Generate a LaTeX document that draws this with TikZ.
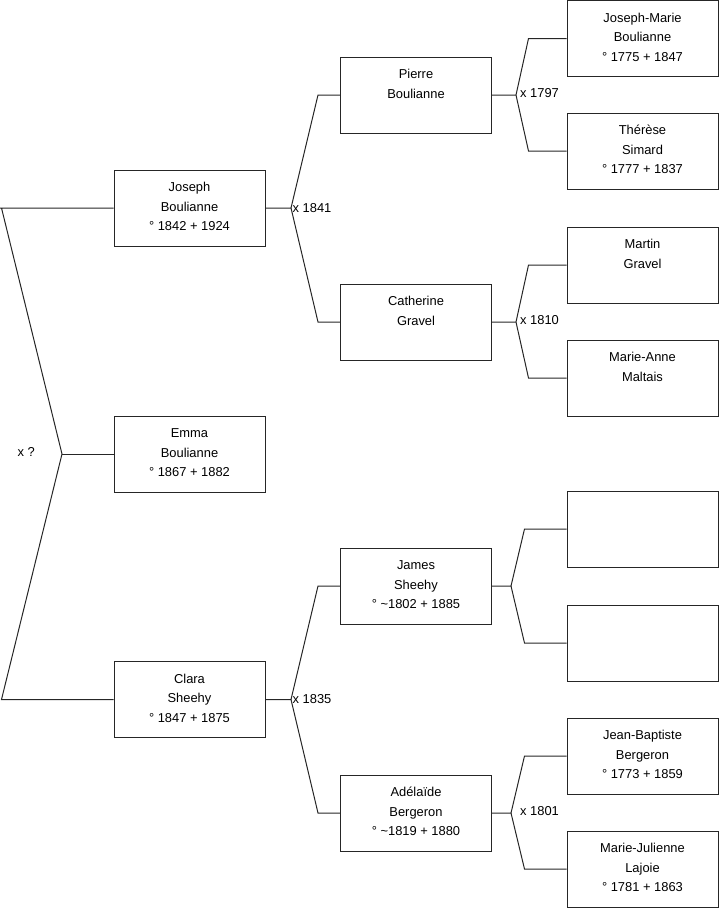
\documentclass[tikz,border=0pt]{standalone}
\usepackage{fontspec}
\setmainfont{Liberation Sans}
\newcommand{\pbox}[3]{\parbox[c][76pt][t]{151pt}{\centering\vspace*{8pt}\strut #1\\\strut #2\\\strut #3\par}}
\tikzset{
  box/.style={draw=black!85, line width=1pt, rectangle, inner sep=0pt, minimum width=151pt, minimum height=76pt, font=\fontsize{12.9}{19.5}\selectfont},
  con/.style={draw=black!85, line width=1pt},
  lbl/.style={anchor=base west, inner sep=0pt, font=\fontsize{12.9}{19.5}\selectfont}
}
\begin{document}
\begin{tikzpicture}[x=1pt,y=-1pt]
\useasboundingbox (0,0) rectangle (719,908);
% column 1
\node[box] (joseph) at (189.5,208) {\pbox{Joseph}{Boulianne}{° 1842 + 1924}};
\node[box] (emma) at (189.5,454) {\pbox{Emma}{Boulianne}{° 1867 + 1882}};
\node[box] (clara) at (189.5,699.5) {\pbox{Clara}{Sheehy}{° 1847 + 1875}};
% column 2
\node[box] (pierre) at (416,95) {\pbox{Pierre}{Boulianne}{}};
\node[box] (catherine) at (416,322) {\pbox{Catherine}{Gravel}{}};
\node[box] (james) at (416,586) {\pbox{James}{Sheehy}{° \textasciitilde1802 + 1885}};
\node[box] (adelaide) at (416,813) {\pbox{Adélaïde}{Bergeron}{° \textasciitilde1819 + 1880}};
% column 3
\node[box] (jm) at (642.5,38.5) {\pbox{Joseph-Marie}{Boulianne}{° 1775 + 1847}};
\node[box] (therese) at (642.5,151) {\pbox{Thérèse}{Simard}{° 1777 + 1837}};
\node[box] (martin) at (642.5,265) {\pbox{Martin}{Gravel}{}};
\node[box] (marieanne) at (642.5,378) {\pbox{Marie-Anne}{Maltais}{}};
\node[box] (e1) at (642.5,529) {};
\node[box] (e2) at (642.5,643) {};
\node[box] (jb) at (642.5,756) {\pbox{Jean-Baptiste}{Bergeron}{° 1773 + 1859}};
\node[box] (mj) at (642.5,869) {\pbox{Marie-Julienne}{Lajoie}{° 1781 + 1863}};

% vertices
\coordinate (v0) at (62,454);
\coordinate (l0t) at (1.5,208);
\coordinate (l0b) at (1.5,699.5);
\coordinate (v1) at (291,208);
\coordinate (v2) at (291,699.5);
\coordinate (v3) at (516,95);
\coordinate (v4) at (516,322);
\coordinate (v5) at (511,586);
\coordinate (v6) at (511,813);

% left couple
\draw[con] (joseph.west) -- (0,208) (l0t) -- (v0) -- (l0b) -- (clara.west);
\draw[con] (v0) -- (emma.west);
% Joseph's parents
\draw[con] (joseph.east) -- (v1) -- ([xshift=-22pt]pierre.west) -- (pierre.west);
\draw[con] (v1) -- ([xshift=-22pt]catherine.west) -- (catherine.west);
% Clara's parents
\draw[con] (clara.east) -- (v2) -- ([xshift=-22pt]james.west) -- (james.west);
\draw[con] (v2) -- ([xshift=-22pt]adelaide.west) -- (adelaide.west);
% Pierre
\draw[con] (pierre.east) -- (v3) -- ([xshift=-38pt]jm.west) -- (jm.west);
\draw[con] (v3) -- ([xshift=-38pt]therese.west) -- (therese.west);
% Catherine
\draw[con] (catherine.east) -- (v4) -- ([xshift=-38pt]martin.west) -- (martin.west);
\draw[con] (v4) -- ([xshift=-38pt]marieanne.west) -- (marieanne.west);
% James
\draw[con] (james.east) -- (v5) -- ([xshift=-42pt]e1.west) -- (e1.west);
\draw[con] (v5) -- ([xshift=-42pt]e2.west) -- (e2.west);
% Adelaide
\draw[con] (adelaide.east) -- (v6) -- ([xshift=-42pt]jb.west) -- (jb.west);
\draw[con] (v6) -- ([xshift=-42pt]mj.west) -- (mj.west);

% labels
\node[lbl] (m0) at (17.5,456.5) {x ?};
\node[lbl] (m1) at (292.5,212) {x 1841};
\node[lbl] (m2) at (292.5,703) {x 1835};
\node[lbl] (m3) at (520,97) {x 1797};
\node[lbl] (m4) at (520,324) {x 1810};
\node[lbl] (m6) at (520,815) {x 1801};
\end{tikzpicture}
\end{document}
